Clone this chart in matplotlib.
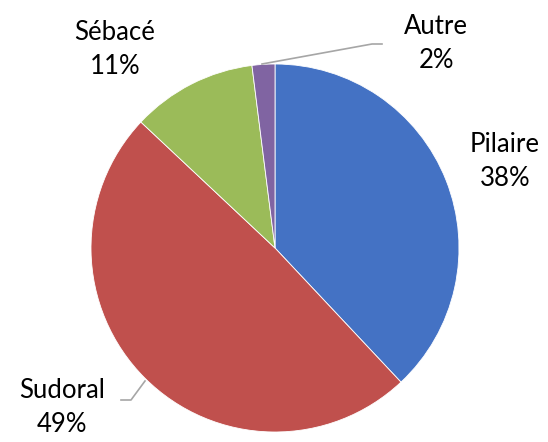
import numpy as np
import matplotlib.pyplot as plt

categories = ['Pilaire', 'Sudoral', 'Sébacé', 'Autre']
values = [38, 49, 11, 2]
colors = ['#4472C4', '#C0504D', '#9BBB59', '#8064A2']

# label centres in pixel coords (x, y from top)
label_pos = [(505, 162), (62, 408), (115, 49), (436, 44)]

W, H = 548, 442
fig = plt.figure(figsize=(W / 100, H / 100), dpi=100)
ax = fig.add_axes([0, 0, 1, 1])

cx, cy, r = 275, H - 248, 184
ax.pie(values, colors=colors, startangle=90, counterclock=False,
       center=(cx, cy), radius=r, frame=True,
       wedgeprops=dict(edgecolor='white', linewidth=0.6))
ax.set_xlim(0, W)
ax.set_ylim(0, H)
ax.set_aspect('equal')
ax.axis('off')

for cat, val, (x, y) in zip(categories, values, label_pos):
    ax.text(x, H - y, '%s\n%d%%' % (cat, val), ha='center', va='center',
            fontsize=18.5, family='Lato', linespacing=1.45, color='black')

# leader lines
ax.plot([262, 372, 382], [H - 64, H - 44, H - 44], color='#A6A6A6', lw=1.2)
ax.plot([121, 131, 145], [H - 400, H - 400, H - 381], color='#A6A6A6', lw=1.2)

fig.savefig('out.png', dpi=100)
